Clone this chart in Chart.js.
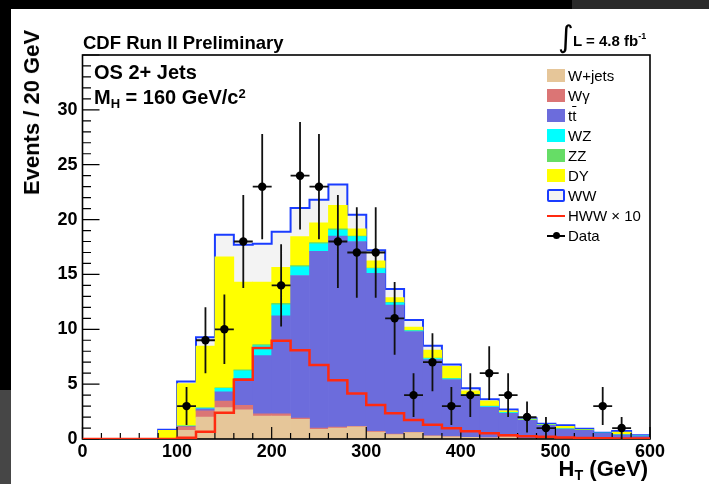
<!DOCTYPE html>
<html>
<head>
<meta charset="utf-8">
<script src="https://cdn.jsdelivr.net/npm/chart.js@4.4.1/dist/chart.umd.min.js"></script>
<style>
html,body{margin:0;padding:0;width:709px;height:484px;overflow:hidden;background:#000;}
#panel{position:absolute;left:11px;top:9px;right:0;bottom:0;background:#fff;}
#tr{position:absolute;left:572px;top:0;right:0;height:9px;background:#2a2a2a;}
#bl{position:absolute;left:0;top:390px;width:11px;bottom:0;background:#464646;}
#wrap{position:absolute;left:0;top:0;width:709px;height:484px;}
.t{position:absolute;font-family:"Liberation Sans",Arial,Helvetica,sans-serif;font-weight:bold;color:#000;white-space:nowrap;line-height:1;pointer-events:none;}
.t sub{font-size:0.65em;vertical-align:-0.3em;line-height:0;}
.t sup{font-size:0.65em;vertical-align:0.5em;line-height:0;}
#legend{position:absolute;left:547px;top:65.7px;font-family:"Liberation Sans",Arial,Helvetica,sans-serif;font-size:15px;color:#000;pointer-events:none;}
.row{position:relative;height:20px;line-height:20px;white-space:nowrap;}
.sw{position:absolute;left:0;top:3.5px;width:18px;height:13px;box-sizing:border-box;}
.lab{position:absolute;left:21px;top:0;}
</style>
</head>
<body>
<div id="panel"></div>
<div id="tr"></div>
<div id="bl"></div>
<div id="wrap"><canvas id="c" width="709" height="484"></canvas></div>

<div class="t" style="left:83px;top:34px;font-size:18.5px;">CDF Run II Preliminary</div>
<div class="t" style="left:558px;top:22px;font-size:30px;font-weight:normal;font-family:'DejaVu Sans',sans-serif;">∫</div>
<div class="t" style="left:573px;top:32.5px;font-size:15px;">L = 4.8 fb<sup style="font-size:9px;vertical-align:7px;">-1</sup></div>
<div class="t" style="left:94px;top:61.5px;font-size:20px;">OS 2+ Jets</div>
<div class="t" style="left:94px;top:86.5px;font-size:20px;">M<sub>H</sub> = 160 GeV/c<sup>2</sup></div>
<div class="t" style="left:21px;top:30px;font-size:22px;writing-mode:vertical-rl;transform:rotate(180deg);">Events / 20 GeV</div>
<div class="t" style="right:61px;top:458px;font-size:22px;">H<sub>T</sub> (GeV)</div>
<div id="legend"></div>

<script>
// ---- bins (low edges, GeV) ----
const binLow = [0,20,40,60,80,100,120,140,160,180,200,220,240,260,280,300,320,340,360,380,400,420,440,460,480,500,520,540,560,580];
const xTickLabels = [0,100,200,300,400,500,600];
const yTickLabels = [0,5,10,15,20,25,30];

// ---- stacked backgrounds (events / 20 GeV) ----
const wjets  = [0,0,0,0,0, 0.8,2.0,2.86,2.65,2.1, 2.1,1.8,0.88,1.0,1.1, 0.64,0.4,0.58,0.27,0.2, 0.15,0.1,0.2,0.05,0.05, 0.05,0.03,0.02,0.02,0.01];
const wgamma = [0,0,0,0,0, 0.3,0.56,0.6,0.43,0.2, 0.2,0.1,0.12,0.08,0.05, 0.05,0.05,0.02,0.02,0.02, 0.01,0.01,0.01,0,0, 0,0,0,0,0];
const ttbar  = [0,0,0,0,0, 0.05,0.2,0.85,2.46,5.3, 8.93,13.0,16.1,17.42,16.85, 14.4,11.75,9.2,6.95,5.2, 3.8,2.81,2.14,1.65,1.2, 0.85,0.75,0.5,0.36,0.25];
const wz     = [0,0,0,0,0, 0.02,0.05,0.3,0.67,0.9, 1.0,0.8,0.7,0.55,0.45, 0.45,0.2,0.07,0.1,0.07, 0.07,0.06,0.05,0.03,0.02, 0.03,0.02,0.01,0.02,0.02];
const zz     = [0,0,0,0,0, 0.02,0.02,0.05,0.1,0.1, 0.13,0.1,0.1,0.1,0.05, 0.05,0.05,0.03,0.03,0.03, 0.03,0.03,0.02,0.02,0.02, 0.02,0.05,0.01,0.02,0.01];
const dy     = [0,0,0,0,0.8, 3.85,5.65,11.95,7.99,5.7, 3.29,2.65,1.8,2.15,0.65, 0.65,0.45,0.3,0.73,1.1, 0.32,0.46,0.15,0.06,0.05, 0.2,0.04,0,0.2,0];
const ww     = [0,0,0,0,0.05, 0.2,0.8,2.0,3.4,3.5, 3.25,2.6,2.1,1.9,1.3, 0.96,0.77,0.64,0.4,0.17, 0.25,0.15,0.11,0.08,0.06, 0.1,0.05,0.04,0.11,0.05];
// ---- signal x10 ----
const hww10  = [0,0,0,0,0, 0.12,0.67,2.4,5.4,8.3, 8.95,8.1,6.75,5.36,4.14, 3.1,2.35,1.73,1.3,0.97, 0.7,0.52,0.35,0.25,0.2, 0.13,0.08,0.06,0.05,0.04];
// ---- observed data (counts per bin) ----
const dataCounts = [0,0,0,0,0, 3,9,10,18,23, 14,24,23,18,17, 17,11,4,7,3, 4,6,4,2,1, 0,0,3,1,0];

const BIN = 20, XMAX = 600, YMAX = 35;

const bgSeries = [
  {label:'W+jets', html:'W+jets', values:wjets,  color:'#e6c699'},
  {label:'Wγ',     html:'Wγ',     values:wgamma, color:'#db7575'},
  {label:'tt̄',     html:'t<span style="text-decoration:overline">t</span>', values:ttbar, color:'#6c6cdc'},
  {label:'WZ',     html:'WZ',     values:wz,     color:'#00ffff'},
  {label:'ZZ',     html:'ZZ',     values:zz,     color:'#66dd66'},
  {label:'DY',     html:'DY',     values:dy,     color:'#ffff00'},
];
const WW_FILL = '#f3f3f3', WW_LINE = '#1a3cff', HWW_COLOR = '#ff2a10';

const total = binLow.map((_, i) => bgSeries.reduce((s, b) => s + b.values[i], 0) + ww[i]);
const stepPts = arr => binLow.map((x, i) => ({x, y: arr[i]})).concat([{x: XMAX, y: arr[arr.length - 1]}]);

const datasets = [];
bgSeries.forEach((b, k) => {
  datasets.push({
    type:'bar', label:b.label,
    data: binLow.map((x, i) => ({x: x + BIN/2, y: b.values[i] === 0 ? null : b.values[i]})),
    backgroundColor:b.color, borderWidth:0,
    barPercentage:1, categoryPercentage:1,
    stack:'bg', order: 2 + k
  });
});
datasets.push({
  type:'line', label:'WW', data: stepPts(total), stepped:'before',
  fill:'origin', backgroundColor:WW_FILL, borderColor:WW_LINE, borderWidth:2,
  pointRadius:0, stack:'wwLine', order:20
});
datasets.push({
  type:'line', label:'HWW × 10', data: stepPts(hww10), stepped:'before',
  fill:false, borderColor:HWW_COLOR, borderWidth:2.5, pointRadius:0,
  stack:'hww', order:1
});
datasets.push({
  type:'line', label:'Data', showLine:false,
  data: binLow.map((x, i) => ({x: x + BIN/2, y: dataCounts[i]})).filter(p => p.y > 0),
  pointRadius:4.2, pointBackgroundColor:'#000', pointBorderWidth:0,
  stack:'data', order:0
});

const hwwIndex = datasets.findIndex(d => d.label === 'HWW × 10');
const dataIndex = datasets.findIndex(d => d.label === 'Data');

const histPlugin = {
  id:'hist',
  beforeDatasetDraw(chart, args) {
    const ctx = chart.ctx, xs = chart.scales.x, ys = chart.scales.y, a = chart.chartArea;
    if (args.index === hwwIndex) {
      ctx.save();
      ctx.strokeStyle = '#000';
      // ticks (inside)
      ctx.lineWidth = 1.2;
      ctx.beginPath();
      for (let v = 0; v <= XMAX; v += BIN) {
        const px = xs.getPixelForValue(v);
        const len = (v % 100 === 0) ? 12 : 6;
        ctx.moveTo(px, a.bottom); ctx.lineTo(px, a.bottom - len);
      }
      for (let v = 0; v <= YMAX; v += 1) {
        const py = ys.getPixelForValue(v);
        const len = (v % 5 === 0) ? 17 : 8.5;
        ctx.moveTo(a.left, py); ctx.lineTo(a.left + len, py);
      }
      ctx.stroke();
      // frame
      ctx.lineWidth = 1.6;
      ctx.strokeRect(a.left, a.top, a.right - a.left, a.bottom - a.top);
      ctx.restore();
    }
    if (args.index === dataIndex) {
      ctx.save();
      ctx.strokeStyle = '#111';
      ctx.lineWidth = 1.8;
      ctx.beginPath();
      chart.data.datasets[dataIndex].data.forEach(p => {
        const err = Math.sqrt(p.y);
        const px = xs.getPixelForValue(p.x), py = ys.getPixelForValue(p.y);
        ctx.moveTo(px, ys.getPixelForValue(Math.max(0, p.y - err)));
        ctx.lineTo(px, ys.getPixelForValue(p.y + err));
        ctx.moveTo(xs.getPixelForValue(p.x - BIN/2), py);
        ctx.lineTo(xs.getPixelForValue(p.x + BIN/2), py);
      });
      ctx.stroke();
      ctx.restore();
    }
  }
};

const tickFont = {family:'"Liberation Sans", Arial, sans-serif', weight:'bold', size:18};

new Chart(document.getElementById('c'), {
  data:{datasets},
  options:{
    responsive:false, animation:false,
    layout:{padding:{left:0, top:55, right:59, bottom:0}},
    plugins:{legend:{display:false}, tooltip:{enabled:false}, title:{display:false}},
    scales:{
      x:{
        type:'linear', min:0, max:XMAX, stacked:true, offset:false,
        grid:{display:false, drawTicks:false}, border:{display:false},
        ticks:{font:tickFont, color:'#000', padding:2, autoSkip:false, maxRotation:0, callback:v => String(v)},
        afterBuildTicks: s => { s.ticks = xTickLabels.map(v => ({value:v})); },
        afterFit: s => { s.height = 45; }
      },
      y:{
        type:'linear', min:0, max:YMAX, stacked:true,
        grid:{display:false, drawTicks:false}, border:{display:false},
        ticks:{font:tickFont, color:'#000', padding:5, callback:v => String(v)},
        afterBuildTicks: s => { s.ticks = yTickLabels.map(v => ({value:v})); },
        afterFit: s => { s.width = 82.5; }
      }
    }
  },
  plugins:[histPlugin]
});

// ---- legend built from the series ----
const legendEntries = bgSeries.map(b => ({kind:'box', color:b.color, html:b.html}))
  .concat([
    {kind:'ww', html:'WW'},
    {kind:'line', html:'HWW × 10'},
    {kind:'data', html:'Data'}
  ]);
const leg = document.getElementById('legend');
legendEntries.forEach(e => {
  const row = document.createElement('div'); row.className = 'row';
  let sw = '';
  if (e.kind === 'box') sw = `<div class="sw" style="background:${e.color}"></div>`;
  else if (e.kind === 'ww') sw = `<div class="sw" style="background:${WW_FILL};border:2px solid ${WW_LINE};border-radius:2px"></div>`;
  else if (e.kind === 'line') sw = `<div style="position:absolute;left:0;top:9px;width:18px;height:2px;background:${HWW_COLOR}"></div>`;
  else sw = `<div style="position:absolute;left:0;top:9.5px;width:18px;height:1.5px;background:#000"></div><div style="position:absolute;left:5.5px;top:6.5px;width:7px;height:7px;border-radius:50%;background:#000"></div>`;
  row.innerHTML = sw + `<span class="lab">${e.html}</span>`;
  leg.appendChild(row);
});
</script>
</body>
</html>
